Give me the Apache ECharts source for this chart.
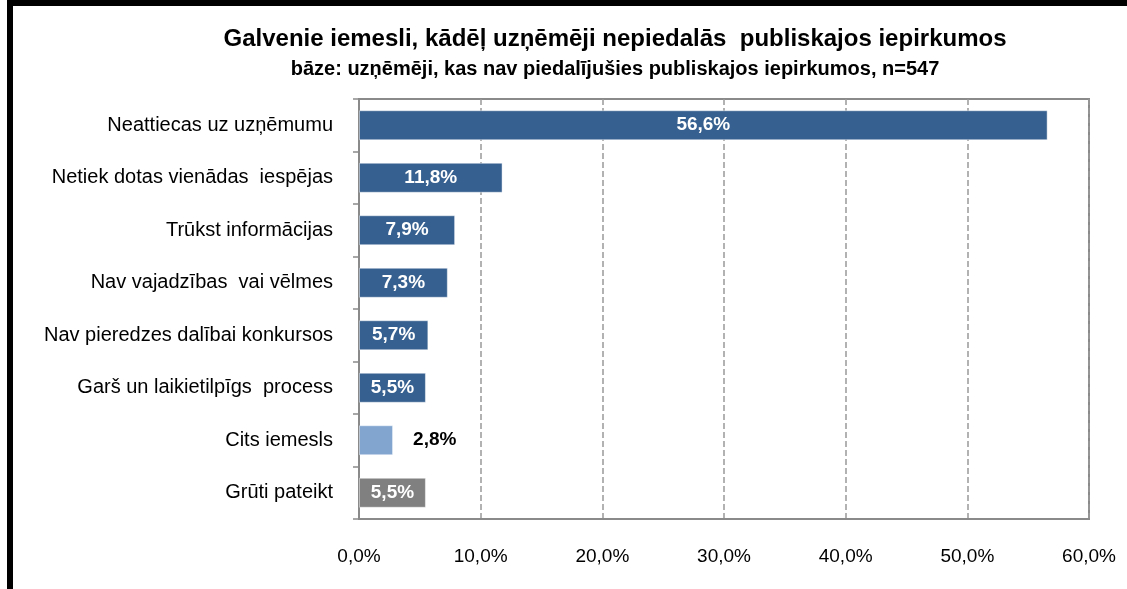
<!DOCTYPE html>
<html>
<head>
<meta charset="utf-8">
<script src="https://cdn.jsdelivr.net/npm/echarts@6/dist/echarts.min.js"></script>
<style>
  html, body { margin: 0; padding: 0; background: #fff; }
  #chart { position: absolute; left: 0; top: 0; width: 1127px; height: 589px; }
  #frame {
    position: absolute; left: 7px; top: 0; width: 1120px; height: 589px;
    box-sizing: border-box; border-top: 6px solid #000; border-left: 6px solid #000;
    pointer-events: none;
  }
</style>
</head>
<body>
<div id="chart"></div>
<div id="frame"></div>
<script>
// dati
const categories = [
  'Neattiecas uz uzņēmumu',
  'Netiek dotas vienādas  iespējas',
  'Trūkst informācijas',
  'Nav vajadzības  vai vēlmes',
  'Nav pieredzes dalībai konkursos',
  'Garš un laikietilpīgs  process',
  'Cits iemesls',
  'Grūti pateikt'
];
const values = [56.6, 11.8, 7.9, 7.3, 5.7, 5.5, 2.8, 5.5];
const xTicks = [0, 10, 20, 30, 40, 50, 60];

// stils
const barColors = ['#36608f', '#36608f', '#36608f', '#36608f', '#36608f', '#36608f', '#82a5d0', '#808080'];
const FONT = '"Liberation Sans Narrow", "Liberation Sans", Arial, sans-serif';
const fmt = v => v.toFixed(1).replace('.', ',') + '%';

const chart = echarts.init(document.getElementById('chart'));

chart.setOption({
  animation: false,
  title: {
    text: 'Galvenie iemesli, kādēļ uzņēmēji nepiedalās  publiskajos iepirkumos',
    subtext: 'bāze: uzņēmēji, kas nav piedalījušies publiskajos iepirkumos, n=547',
    left: 610,
    textAlign: 'center',
    top: 22,
    itemGap: 8,
    textStyle: { fontFamily: FONT, fontSize: 24, fontWeight: 'bold', color: '#000' },
    subtextStyle: { fontFamily: FONT, fontSize: 20, fontWeight: 'bold', color: '#000' }
  },
  grid: {
    left: 359, right: 38, top: 99, bottom: 70,
    show: true, borderColor: '#8a8a8a', borderWidth: 2
  },
  xAxis: {
    type: 'value',
    min: xTicks[0],
    max: xTicks[xTicks.length - 1],
    interval: 10,
    axisLine: { show: true, lineStyle: { color: '#8a8a8a', width: 2 } },
    axisTick: { show: false },
    splitLine: { show: true, lineStyle: { color: '#999', type: [6, 3], width: 1.5 } },
    axisLabel: { margin: 28, fontFamily: FONT, fontSize: 19, color: '#000', formatter: fmt }
  },
  yAxis: {
    type: 'category',
    data: categories,
    inverse: true,
    axisLine: { show: true, lineStyle: { color: '#8a8a8a', width: 2 } },
    axisTick: { show: true, length: 6, lineStyle: { color: '#8a8a8a', width: 1.5 } },
    axisLabel: { margin: 26, fontFamily: FONT, fontSize: 20, color: '#000' }
  },
  series: [{
    type: 'bar',
    barWidth: 30,
    data: values.map((v, i) => ({
      value: v,
      itemStyle: { color: barColors[i], borderColor: 'rgba(255,255,255,0.45)', borderWidth: 1 },
      label: i === 6
        ? { position: 'right', distance: 20, color: '#000' }
        : { position: 'inside', color: '#fff' }
    })),
    label: {
      show: true,
      fontFamily: FONT,
      fontSize: 19,
      fontWeight: 'bold',
      formatter: p => fmt(p.value)
    }
  }]
});
</script>
</body>
</html>
